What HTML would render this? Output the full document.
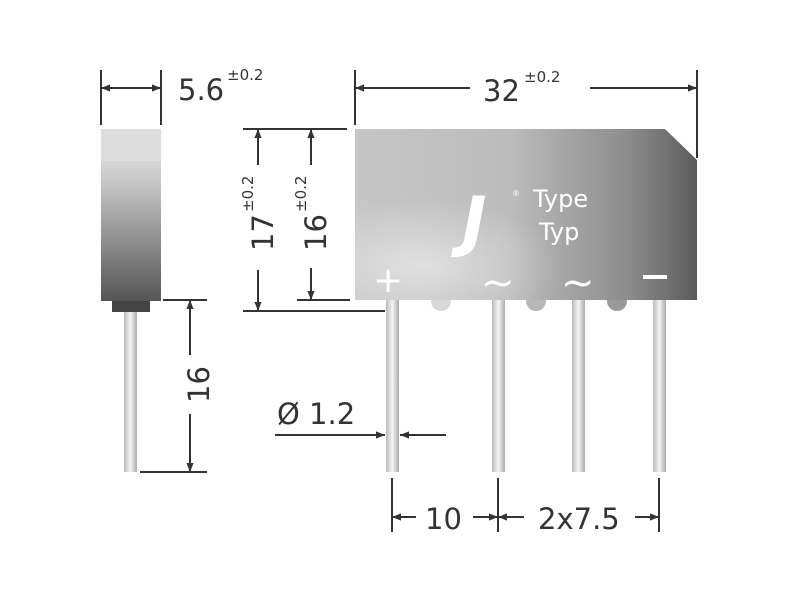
<!DOCTYPE html>
<html><head><meta charset="utf-8"><style>
html,body{margin:0;padding:0;background:#fff;}
svg{display:block;}
text{font-family:"DejaVu Sans","Liberation Sans",sans-serif;fill:#333;}
</style></head><body>
<svg width="800" height="600" viewBox="0 0 800 600" xmlns="http://www.w3.org/2000/svg">
<defs>
<marker id="a" viewBox="0 0 10 10" refX="10" refY="5" markerWidth="9" markerHeight="9" orient="auto-start-reverse" markerUnits="userSpaceOnUse"><path d="M0,1 L10,5 L0,9 z" fill="#333"/></marker>
<linearGradient id="side" x1="0" y1="0" x2="0" y2="1">
<stop offset="0" stop-color="#eee"/><stop offset="0.3" stop-color="#c8c8c8"/><stop offset="1" stop-color="#555"/></linearGradient>
<linearGradient id="body" x1="0" y1="0" x2="1" y2="0">
<stop offset="0" stop-color="#c6c6c6"/><stop offset="0.45" stop-color="#bcbcbc"/><stop offset="0.8" stop-color="#8c8c8c"/><stop offset="1" stop-color="#5c5c5c"/></linearGradient>
<radialGradient id="glow" cx="0.2" cy="0.8" r="0.4"><stop offset="0" stop-color="#fff" stop-opacity="0.5"/><stop offset="1" stop-color="#fff" stop-opacity="0"/></radialGradient>
<linearGradient id="pin" x1="0" y1="0" x2="1" y2="0">
<stop offset="0" stop-color="#bbb"/><stop offset="0.5" stop-color="#f4f4f4"/><stop offset="1" stop-color="#aaa"/></linearGradient>
</defs>
<g stroke="#333" stroke-width="2" fill="none">
<line x1="101" y1="70" x2="101" y2="125"/><line x1="161" y1="70" x2="161" y2="125"/>
<line x1="101" y1="88" x2="161" y2="88" marker-start="url(#a)" marker-end="url(#a)"/>
<line x1="355" y1="70" x2="355" y2="125"/><line x1="697" y1="70" x2="697" y2="158"/>
<line x1="355" y1="88" x2="470" y2="88" marker-start="url(#a)"/>
<line x1="590" y1="88" x2="697" y2="88" marker-end="url(#a)"/>
<line x1="243" y1="129" x2="347" y2="129"/>
<line x1="243" y1="311" x2="385" y2="311"/>
<line x1="297" y1="300" x2="350" y2="300"/>
<line x1="258" y1="165" x2="258" y2="129" marker-end="url(#a)"/>
<line x1="258" y1="270" x2="258" y2="311" marker-end="url(#a)"/>
<line x1="311" y1="165" x2="311" y2="129" marker-end="url(#a)"/>
<line x1="311" y1="268" x2="311" y2="300" marker-end="url(#a)"/>
<line x1="163" y1="300" x2="207" y2="300"/>
<line x1="140" y1="472" x2="207" y2="472"/>
<line x1="190" y1="355" x2="190" y2="300" marker-end="url(#a)"/>
<line x1="190" y1="414" x2="190" y2="472" marker-end="url(#a)"/>
<line x1="275" y1="435" x2="385" y2="435" marker-end="url(#a)"/>
<line x1="446" y1="435" x2="400" y2="435" marker-end="url(#a)"/>
<line x1="392" y1="478" x2="392" y2="532"/><line x1="498" y1="478" x2="498" y2="532"/><line x1="659" y1="478" x2="659" y2="532"/>
<line x1="416" y1="517" x2="392" y2="517" marker-end="url(#a)"/>
<line x1="473" y1="517" x2="498" y2="517" marker-end="url(#a)"/>
<line x1="524" y1="517" x2="498" y2="517" marker-end="url(#a)"/>
<line x1="635" y1="517" x2="659" y2="517" marker-end="url(#a)"/>
</g>
<rect x="124" y="305" width="13" height="167" fill="url(#pin)"/>
<rect x="112" y="298" width="38" height="14" fill="#444"/>
<rect x="101" y="129" width="60" height="172" fill="url(#side)"/>
<rect x="101" y="129" width="60" height="32" fill="#ddd"/>
<rect x="386" y="296" width="13" height="176" fill="url(#pin)"/>
<rect x="492" y="296" width="13" height="176" fill="url(#pin)"/>
<rect x="572" y="296" width="13" height="176" fill="url(#pin)"/>
<rect x="653" y="296" width="13" height="176" fill="url(#pin)"/>
<circle cx="441" cy="301" r="10" fill="#d8d8d8"/>
<circle cx="536" cy="301" r="10" fill="#b8b8b8"/>
<circle cx="617" cy="301" r="10" fill="#999"/>
<path d="M355,129 L665,129 L697,160 L697,300 L355,300 z" fill="url(#body)"/>
<path d="M355,129 L665,129 L697,160 L697,300 L355,300 z" fill="url(#glow)"/>
<text x="462" y="244" font-family="Liberation Serif,serif" font-size="66" font-weight="bold" font-style="italic" style="fill:#fff">J</text>
<text x="512" y="196" font-size="8" style="fill:#fff">®</text>
<text x="533" y="207" font-size="24" style="fill:#fff">Type</text>
<text x="539" y="240" font-size="24" style="fill:#fff">Typ</text>
<text x="373" y="292" font-size="36" style="fill:#fff">+</text>
<text x="481" y="296" font-size="40" style="fill:#fff">~</text>
<text x="561" y="296" font-size="40" style="fill:#fff">~</text>
<rect x="643" y="275" width="24" height="4" fill="#fff"/>
<text x="178" y="100" font-size="29">5.6</text><text x="227" y="80" font-size="15">±0.2</text>
<text x="483" y="101" font-size="29">32</text><text x="524" y="82" font-size="15">±0.2</text>
<text transform="translate(273,251) rotate(-90)" font-size="29">17</text>
<text transform="translate(253,212) rotate(-90)" font-size="15">±0.2</text>
<text transform="translate(326,251) rotate(-90)" font-size="29">16</text>
<text transform="translate(306,212) rotate(-90)" font-size="15">±0.2</text>
<text transform="translate(209,403) rotate(-90)" font-size="29">16</text>
<text x="277" y="424" font-size="29">Ø 1.2</text>
<text x="425" y="529" font-size="29">10</text>
<text x="538" y="529" font-size="29">2x7.5</text>
</svg>
</body></html>
